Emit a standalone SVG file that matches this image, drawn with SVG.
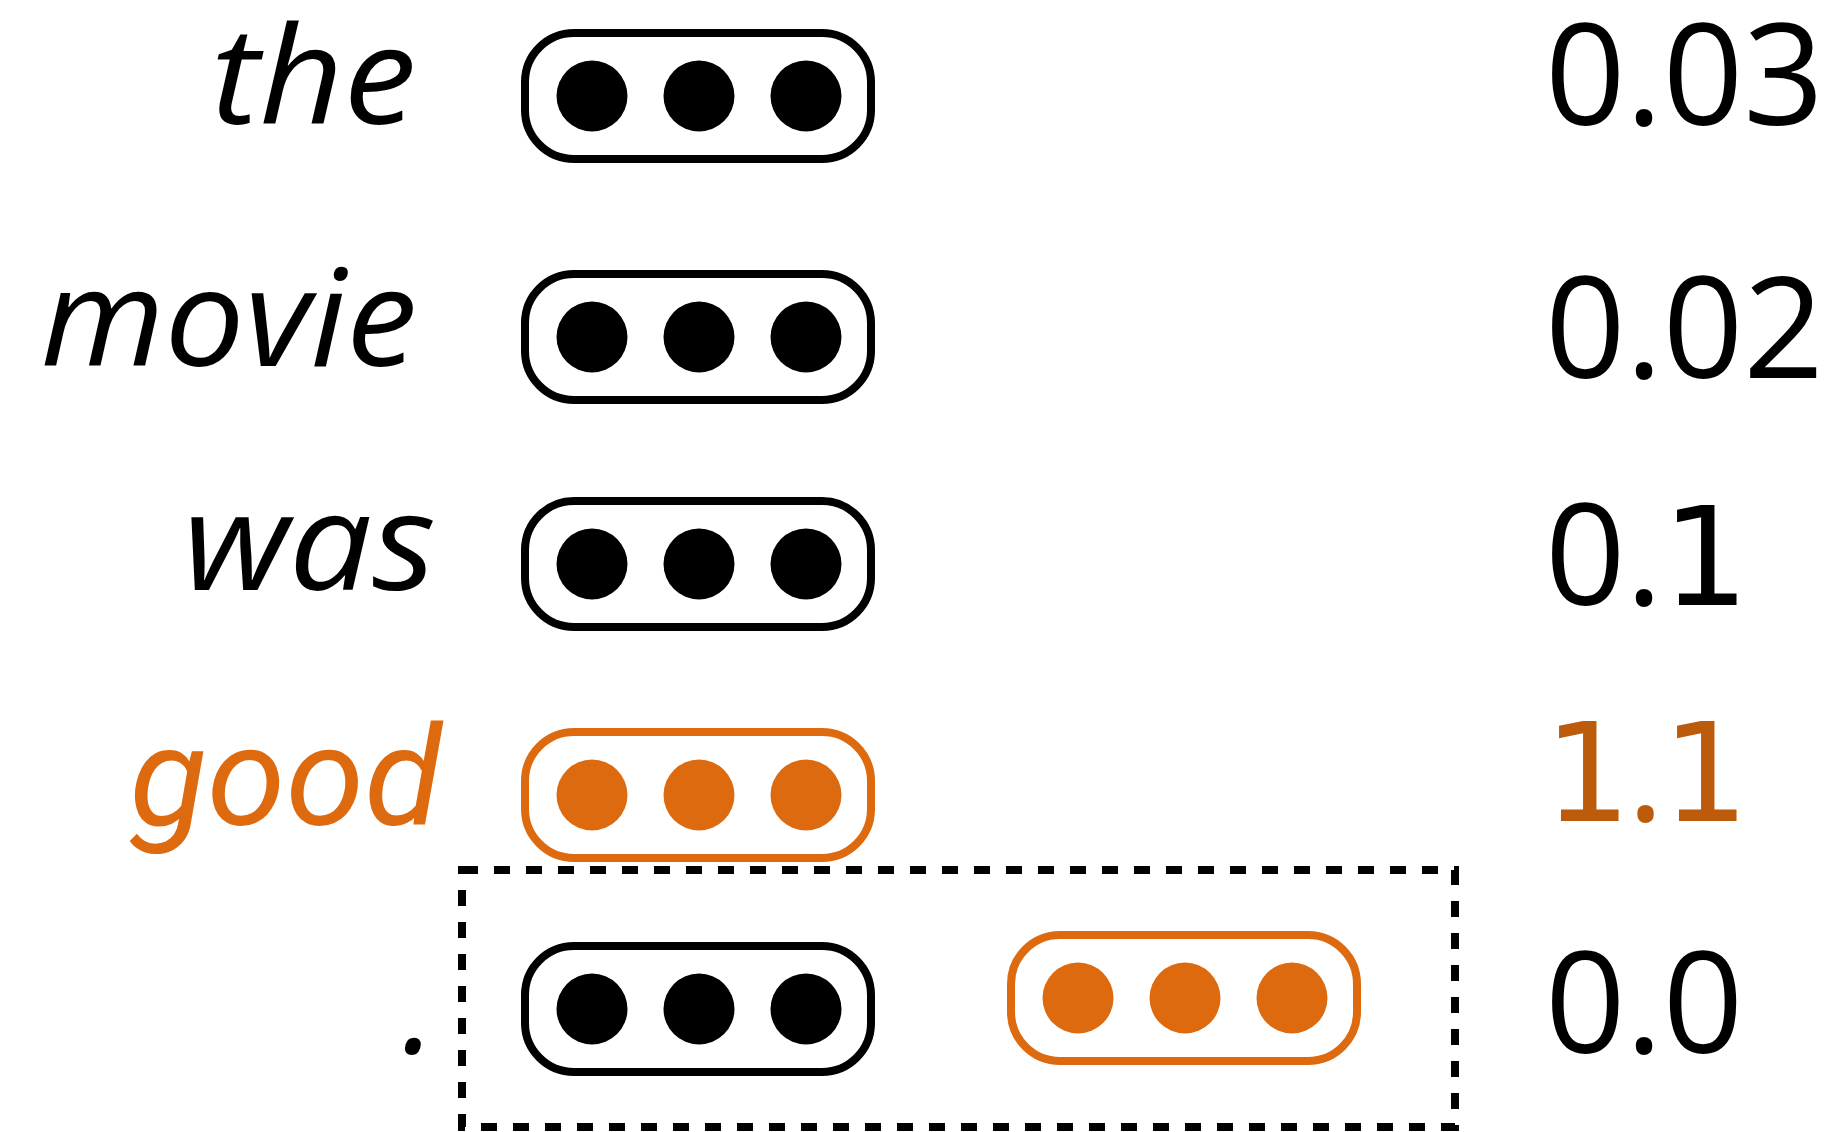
<svg xmlns="http://www.w3.org/2000/svg" width="1834" height="1132" viewBox="0 0 1834 1132">
<style>
  .word { font-family: "Open Sans", "Liberation Sans", sans-serif; font-style: italic; font-size: 135px; text-anchor: end; fill: #000; }
  .word.hl { font-family: Roboto, "Open Sans", sans-serif; font-size: 138px; fill: #DE6A10; }
  .num { font-family: "Open Sans", "Liberation Sans", sans-serif; font-size: 141px; fill: #000; }
  .num.hl { fill: #BD5B0C; }
  .one { font-family: "DejaVu Sans", sans-serif; font-size: 137px; }
  .cap { fill: #fff; stroke: #000; stroke-width: 8; }
  .cap.hl { stroke: #DE6A10; }
  .dot { fill: #000; }
  .dot.hl { fill: #DE6A10; }
  .box { fill: none; stroke: #000; stroke-width: 8; stroke-dasharray: 16 16; }
</style>
<defs>
  <g id="vec">
    <rect class="cap" x="4" y="-63" width="346" height="126" rx="49" ry="49"/>
    <circle class="dot" cx="71" cy="0" r="35.5"/>
    <circle class="dot" cx="178" cy="0" r="35.5"/>
    <circle class="dot" cx="285" cy="0" r="35.5"/>
  </g>
  <g id="vec-hl">
    <rect class="cap hl" x="4" y="-63" width="346" height="126" rx="49" ry="49"/>
    <circle class="dot hl" cx="71" cy="0" r="35.5"/>
    <circle class="dot hl" cx="178" cy="0" r="35.5"/>
    <circle class="dot hl" cx="285" cy="0" r="35.5"/>
  </g>
</defs>
<rect width="1834" height="1132" fill="#fff"/>

<g id="connectors">
  <g id="context-box">
    <rect class="box" x="462" y="870" width="993" height="257"/>
  </g>
</g>

<g id="word-the" transform="translate(416.5,124) scale(1.084,1)"><text class="word" x="0" y="0">the</text></g>
<g id="word-movie" transform="translate(417,366) scale(1.054,1)"><text class="word" x="0" y="0">movie</text></g>
<g id="word-was" transform="translate(436,590) scale(1.095,1)"><text class="word" x="0" y="0">was</text></g>
<g id="word-good" transform="translate(442,825) scale(1.03,1)"><text class="word hl" x="0" y="0">good</text></g>
<g id="word-period"><text class="word" x="436" y="1053">.</text></g>

<g id="vec-the"><use href="#vec" x="521" y="96"/></g>
<g id="vec-movie"><use href="#vec" x="521" y="337"/></g>
<g id="vec-was"><use href="#vec" x="521" y="564"/></g>
<g id="vec-good"><use href="#vec-hl" x="521" y="795"/></g>
<g id="vec-period"><use href="#vec" x="521" y="1009"/></g>
<g id="vec-context"><use href="#vec-hl" x="1007" y="998"/></g>

<g id="score-the"><text class="num" x="1545" y="125">0.03</text></g>
<g id="score-movie"><text class="num" x="1545" y="378">0.02</text></g>
<g id="score-was"><text class="num" x="1545" y="605">0.<tspan class="one" x="1662">1</tspan></text></g>
<g id="score-good"><text class="num hl" y="821"><tspan class="one" x="1544">1</tspan><tspan x="1627">.</tspan><tspan class="one" x="1662">1</tspan></text></g>
<g id="score-period"><text class="num" x="1545" y="1053">0.0</text></g>
</svg>
